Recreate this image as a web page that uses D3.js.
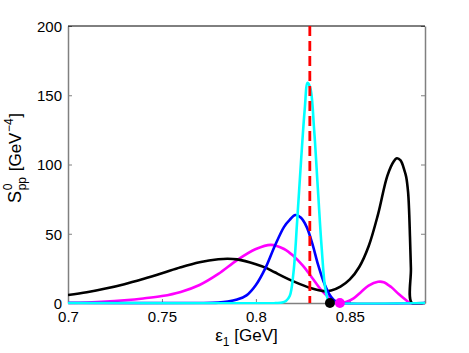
<!DOCTYPE html>
<html><head><meta charset="utf-8">
<script src="https://cdn.jsdelivr.net/npm/d3@7"></script>
<style>body{margin:0;background:#fff}svg{display:block}text{font-family:"Liberation Sans",Arial,sans-serif}</style>
</head><body>
<script>
// ---- data ----
const xTicks = [0.7, 0.75, 0.8, 0.85];
const yTicks = [0, 50, 100, 150, 200];
const blackX = [0.700,0.710,0.720,0.730,0.740,0.750,0.760,0.770,0.780,0.785,0.790,0.800,0.806,0.810,0.820,0.830,0.836,0.840,0.845,0.850,0.855,0.860,0.865,0.870,0.8735,0.875,0.877,0.879,0.880,0.881,0.8815,0.882,0.8825,0.883,0.890];
const blackY = [5.8,7.8,10.4,13.6,17.4,21.5,25.8,29.4,31.6,32,31.5,28,25,22.2,15.6,10.4,8.6,9.0,11.8,17,26,41,64,92,102.5,104.5,103,96,91,80,68,48,25,0,0];
const magentaX = [0.700,0.710,0.720,0.730,0.740,0.750,0.760,0.770,0.780,0.790,0.800,0.808,0.815,0.820,0.825,0.830,0.835,0.840,0.8445,0.848,0.852,0.856,0.860,0.865,0.868,0.872,0.876,0.880,0.882,0.890];
const magentaY = [0.1,0.4,1.0,2.0,3.3,5,8,13,21,31,39,42,39,34,27,18,9,3,0,0.8,3.4,8,12.5,15.3,15,11.5,6.5,2,0,0];
const blueX = [0.700,0.770,0.780,0.785,0.790,0.795,0.800,0.805,0.810,0.815,0.818,0.821,0.824,0.827,0.830,0.833,0.836,0.839,0.842,0.845,0.890];
const blueY = [0,0,0.3,1,2.5,5.5,13,25,41,55,60,63.5,61.5,55,43,28,15.5,6.5,1.5,0,0];
const cyanX = [0.700,0.810,0.814,0.816,0.818,0.820,0.822,0.824,0.826,0.8275,0.829,0.831,0.833,0.835,0.837,0.839,0.842,0.890];
const cyanY = [0,0,0.3,1.5,5,22,60,102,140,159,155,125,82,40,10,1,0,0];
const redLineX = 0.8287;
const dotsX = [0.8394, 0.8447];

// ---- layout ----
const W = 469, H = 353;
const m = {l:68, r:425, t:26, b:303};
const svg = d3.select("body").append("svg").attr("width",W).attr("height",H);
const x = d3.scaleLinear().domain([0.7,0.89]).range([m.l,m.r]);
const y = d3.scaleLinear().domain([0,200]).range([m.b,m.t]);
const gray = "#808080";

// ticks (inward)
const fmt = d => String(+d.toFixed(2));
const gx = svg.append("g").attr("transform",`translate(0,${m.b})`)
  .call(d3.axisBottom(x).tickValues(xTicks).tickFormat(fmt).tickSizeInner(-4).tickSizeOuter(0).tickPadding(8));
const gy = svg.append("g").attr("transform",`translate(${m.l},0)`)
  .call(d3.axisLeft(y).tickValues(yTicks).tickSizeInner(-4).tickSizeOuter(0).tickPadding(6));
const gr = svg.append("g").attr("transform",`translate(${m.r},0)`)
  .call(d3.axisRight(y).tickValues(yTicks).tickSizeInner(-4).tickSizeOuter(0).tickFormat(""));
[gx,gy,gr].forEach(g=>{
  g.select(".domain").attr("stroke",gray).attr("stroke-width",1.5);
  g.selectAll(".tick line").attr("stroke",gray);
  g.selectAll(".tick text").attr("fill","#000").attr("font-size",15).attr("font-family","Liberation Sans, Arial, sans-serif");
});
gx.selectAll(".tick text").attr("dy","0.7em");
gy.selectAll(".tick text").attr("dy","0.36em");
svg.append("line").attr("x1",m.l).attr("x2",m.r).attr("y1",m.t).attr("y2",m.t).attr("stroke","#000").attr("stroke-width",1);

// curves
const line = d3.line().x(d=>x(d[0])).y(d=>Math.min(y(d[1]), y(0))).curve(d3.curveCatmullRom.alpha(0.5));
const series = [
  {xs:magentaX, ys:magentaY, c:"#ff00ff"},
  {xs:blackX, ys:blackY, c:"#000000"},
  {xs:blueX, ys:blueY, c:"#0000ff"},
  {xs:cyanX, ys:cyanY, c:"#00ffff"}
];
svg.append("clipPath").attr("id","clip").append("rect").attr("x",m.l).attr("y",m.t-5).attr("width",m.r-m.l).attr("height",m.b-m.t+6.5);
series.forEach(s=>{
  svg.append("path").datum(s.xs.map((v,i)=>[v,s.ys[i]]))
    .attr("d",line).attr("fill","none").attr("stroke",s.c).attr("stroke-width",2.6)
    .attr("stroke-linejoin","round").attr("clip-path","url(#clip)");
});
svg.append("line").attr("x1",x(redLineX)).attr("x2",x(redLineX)).attr("y1",y(200)).attr("y2",y(0))
  .attr("stroke","#ff0000").attr("stroke-width",2.8).attr("stroke-dasharray","10,5");
svg.append("circle").attr("cx",x(dotsX[0])).attr("cy",y(0)).attr("r",5).attr("fill","#000");
svg.append("circle").attr("cx",x(dotsX[1])).attr("cy",y(0)).attr("r",5).attr("fill","#ff00ff");

// x label
const xl = svg.append("text").attr("x",(m.l+m.r)/2).attr("y",341).attr("text-anchor","middle").attr("font-size",17);
xl.append("tspan").text("ε");
xl.append("tspan").attr("font-size",12).attr("dy",5).text("1");
xl.append("tspan").attr("dy",-5).text(" [GeV]");

// y label (manual layout in rotated frame)
const yg = svg.append("g").attr("transform","translate(21,158) rotate(-90)");
function put(txt, size, dy){
  return yg.append("text").attr("font-size",size).attr("y",dy).style("white-space","pre").text(txt);
}
let cx = 0;
const tS = put("S",18,0); tS.attr("x",cx); cx += tS.node().getComputedTextLength();
const t0 = put("0",12,-9); t0.attr("x",cx+0.5);
const tpp = put("pp",12,5); tpp.attr("x",cx+0.5);
cx += Math.max(t0.node().getComputedTextLength(), tpp.node().getComputedTextLength()) + 1.5;
const tG = put(" [GeV",17,0); tG.attr("x",cx); cx += tG.node().getComputedTextLength();
const tsup = put("\u22124",12,-8); tsup.attr("x",cx+0.5); cx += tsup.node().getComputedTextLength()+1;
const tB = put("]",17,0); tB.attr("x",cx); cx += tB.node().getComputedTextLength();
yg.selectAll("text").each(function(){ const s=d3.select(this); s.attr("x", +s.attr("x") - cx/2); });
</script>
</body></html>
